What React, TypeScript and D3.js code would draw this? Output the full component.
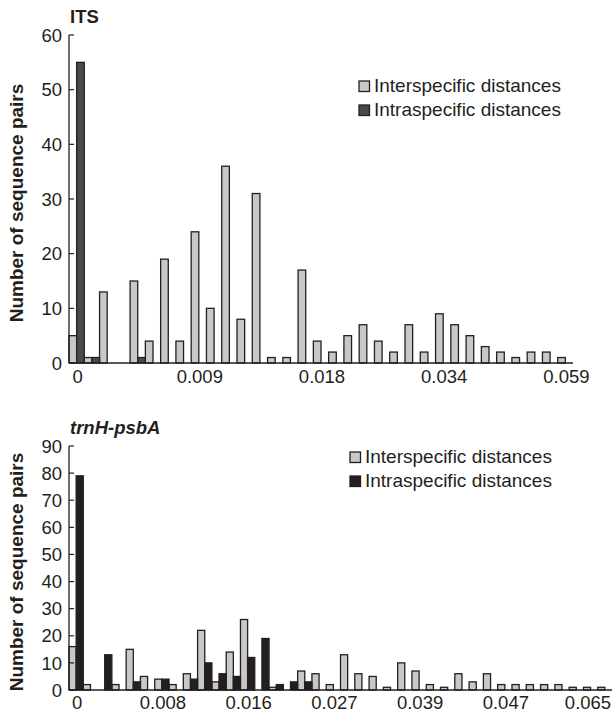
import React from "react";
import * as d3 from "d3";

// ITS histogram (33 distance bins)
const itsInter = [5, 1, 13, 0, 15, 4, 19, 4, 24, 10, 36, 8, 31, 1, 1, 17, 4, 2, 5, 7, 4, 2, 7, 2, 9, 7, 5, 3, 2, 1, 2, 2, 1];
const itsIntra = [55, 1, 0, 0, 1, 0, 0, 0, 0, 0, 0, 0, 0, 0, 0, 0, 0, 0, 0, 0, 0, 0, 0, 0, 0, 0, 0, 0, 0, 0, 0, 0, 0];
const itsTickBins = [0, 8, 16, 24, 32];
const itsTickLabels = ["0", "0.009", "0.018", "0.034", "0.059"];
const itsYTicks = [0, 10, 20, 30, 40, 50, 60];

// trnH-psbA histogram (38 distance bins)
const trnInter = [16, 2, 0, 2, 15, 5, 4, 2, 6, 22, 3, 14, 26, 0, 1, 0, 7, 6, 2, 13, 6, 5, 1, 10, 7, 2, 1, 6, 3, 6, 2, 2, 2, 2, 2, 1, 1, 1];
const trnIntra = [79, 0, 13, 0, 3, 0, 4, 0, 4, 10, 6, 5, 12, 19, 2, 3, 3, 0, 0, 0, 0, 0, 0, 0, 0, 0, 0, 0, 0, 0, 0, 0, 0, 0, 0, 0, 0, 0];
const trnTickBins = [0, 6, 12, 18, 24, 30, 36];
const trnTickLabels = ["0", "0.008", "0.016", "0.027", "0.039", "0.047", "0.065"];
const trnYTicks = [0, 10, 20, 30, 40, 50, 60, 70, 80, 90];

const seriesKeys = ["Interspecific distances", "Intraspecific distances"];

const FONT = "'Liberation Sans', Arial, Helvetica, sans-serif";
const INK = "#231f20";
const LIGHT = "#c8c8c8";
const W = 612;

type PanelProps = {
  inter: number[];
  intra: number[];
  tickBins: number[];
  tickLabels: string[];
  yTicks: number[];
  x0: number;
  x1: number;
  yTop: number;
  yBottom: number;
  title: string;
  italic?: boolean;
  titleY: number;
  darkColor: string;
  legendX: number;
  legendY: number;
  labelBaseline: number;
};

const Panel = (p: PanelProps) => {
  const bins = p.inter.map((_, i) => i);
  const x = d3.scaleBand<number>().domain(bins).range([p.x0, p.x1]).padding(0);
  const xs = d3.scaleBand<string>().domain(seriesKeys).range([0, x.bandwidth()]);
  const yMax = p.yTicks[p.yTicks.length - 1];
  const y = d3.scaleLinear().domain([0, yMax]).range([p.yBottom, p.yTop]);
  const colors = [LIGHT, p.darkColor];
  const series = [p.inter, p.intra];

  return (
    <g>
      <text
        x={p.x0 + 1}
        y={p.titleY}
        fontFamily={FONT}
        fontSize={18.5}
        fontWeight="bold"
        fontStyle={p.italic ? "italic" : "normal"}
        fill={INK}
      >
        {p.title}
      </text>
      <text
        transform={`translate(23, ${(p.yTop + p.yBottom) / 2 + 4}) rotate(-90)`}
        textAnchor="middle"
        fontFamily={FONT}
        fontSize={19}
        fontWeight="bold"
        fill={INK}
      >
        Number of sequence pairs
      </text>

      {series.map((vals, si) =>
        vals.map((v, i) =>
          v > 0 ? (
            <rect
              key={`${si}-${i}`}
              x={(x(i) as number) + (xs(seriesKeys[si]) as number)}
              y={y(v)}
              width={xs.bandwidth()}
              height={p.yBottom - y(v)}
              fill={colors[si]}
              stroke={INK}
              strokeWidth={1.3}
            />
          ) : null
        )
      )}

      {/* y axis with inward ticks */}
      <line x1={p.x0} x2={p.x0} y1={p.yTop} y2={p.yBottom} stroke={INK} strokeWidth={1.3} />
      {p.yTicks.map((t) => (
        <g key={t}>
          <line x1={p.x0} x2={p.x0 + 5} y1={y(t)} y2={y(t)} stroke={INK} strokeWidth={1.2} />
          <text
            x={p.x0 - 7}
            y={y(t)}
            dy="0.36em"
            textAnchor="end"
            fontFamily={FONT}
            fontSize={18.5}
            fill={INK}
          >
            {t}
          </text>
        </g>
      ))}

      {/* x axis */}
      <line x1={p.x0} x2={p.x1} y1={p.yBottom} y2={p.yBottom} stroke={INK} strokeWidth={1.3} />
      {p.tickBins.map((b, i) => (
        <text
          key={b}
          x={Math.min((x(b) as number) + x.bandwidth() / 2 + 1, W - 24)}
          y={p.labelBaseline}
          textAnchor="middle"
          fontFamily={FONT}
          fontSize={18.5}
          fill={INK}
        >
          {p.tickLabels[i]}
        </text>
      ))}

      {/* legend */}
      {seriesKeys.map((k, i) => (
        <g key={k} transform={`translate(${p.legendX}, ${p.legendY + i * 24})`}>
          <rect x={0} y={-11} width={10.5} height={10.5} fill={colors[i]} stroke={INK} strokeWidth={1.3} />
          <text x={15} y={0} fontFamily={FONT} fontSize={19} fill={INK}>
            {k}
          </text>
        </g>
      ))}
    </g>
  );
};

export default function App() {
  return (
    <div style={{ position: "absolute", left: 0, top: 0 }}>
      <svg width={W} height={714} style={{ display: "block", background: "#fff" }}>
        <Panel
          inter={itsInter}
          intra={itsIntra}
          tickBins={itsTickBins}
          tickLabels={itsTickLabels}
          yTicks={itsYTicks}
          x0={69}
          x1={573}
          yTop={35}
          yBottom={363}
          title="ITS"
          titleY={23}
          darkColor="#4a4a4a"
          legendX={359}
          legendY={92}
          labelBaseline={383}
        />
        <Panel
          inter={trnInter}
          intra={trnIntra}
          tickBins={trnTickBins}
          tickLabels={trnTickLabels}
          yTicks={trnYTicks}
          x0={69}
          x1={612}
          yTop={446}
          yBottom={690}
          title="trnH-psbA"
          italic
          titleY={434}
          darkColor={INK}
          legendX={350}
          legendY={463}
          labelBaseline={709}
        />
      </svg>
    </div>
  );
}
